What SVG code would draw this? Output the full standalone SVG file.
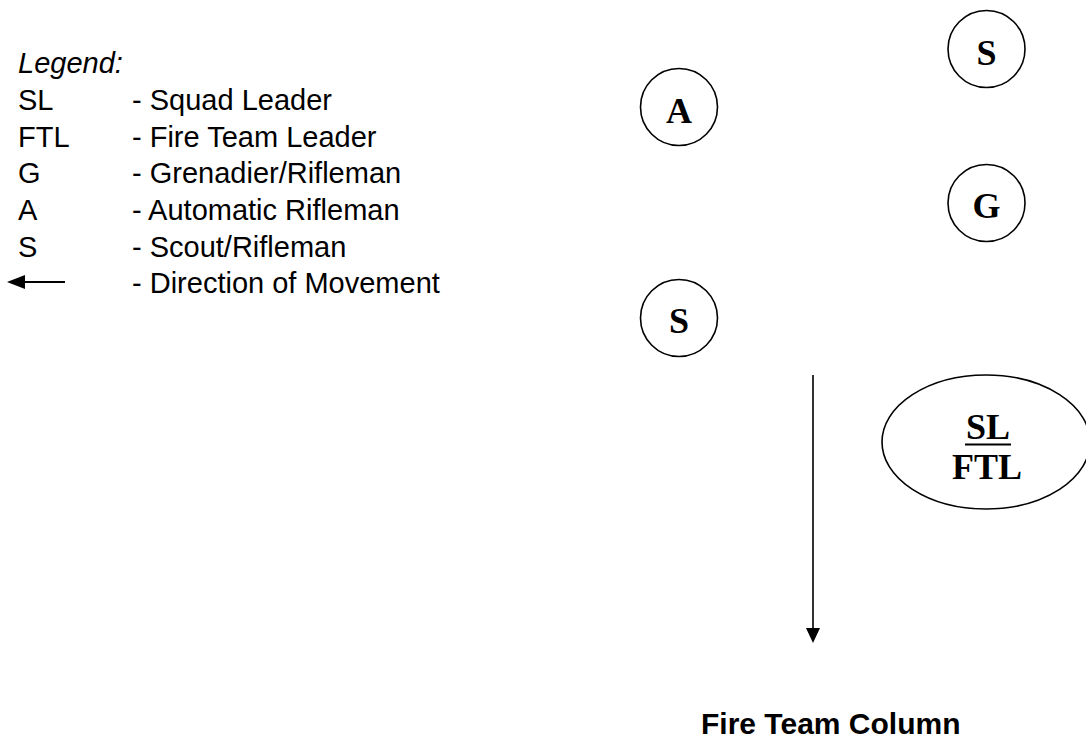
<svg xmlns="http://www.w3.org/2000/svg" width="1086" height="738" viewBox="0 0 1086 738">
<style>
.leg{font-family:"Liberation Sans",Arial,sans-serif;font-size:29px;fill:#000}
.node{fill:#fff;stroke:#000;stroke-width:1.6}
.lbl{font-family:"Liberation Serif","Times New Roman",serif;font-size:36px;font-weight:bold;fill:#000;text-anchor:middle}
.conn{stroke:#000;stroke-width:1.6;fill:none}
.title{font-family:"Liberation Sans",Arial,sans-serif;font-size:30px;font-weight:bold;fill:#000}
</style>
<rect width="1086" height="738" fill="#fff"/>
<g id="legend">
<text class="leg" x="18" y="73" font-style="italic">Legend:</text>
<text class="leg" x="18" y="110">SL</text><text class="leg" x="132" y="110">- Squad Leader</text>
<text class="leg" x="18" y="147">FTL</text><text class="leg" x="132" y="147">- Fire Team Leader</text>
<text class="leg" x="18" y="183">G</text><text class="leg" x="132" y="183">- Grenadier/Rifleman</text>
<text class="leg" x="18" y="220">A</text><text class="leg" x="132" y="220">- Automatic Rifleman</text>
<text class="leg" x="18" y="257">S</text><text class="leg" x="132" y="257">- Scout/Rifleman</text>
<line x1="24" y1="282" x2="65" y2="282" stroke="#000" stroke-width="2"/>
<polygon points="7,282 25,275 25,289" fill="#000"/>
<text class="leg" x="132" y="293">- Direction of Movement</text>
</g>
<g id="node-A"><circle class="node" cx="679" cy="107" r="38.5"/><text class="lbl" x="679" y="123">A</text></g>
<g id="node-S1"><circle class="node" cx="986.5" cy="49" r="38.5"/><text class="lbl" x="986.5" y="65">S</text></g>
<g id="node-G"><circle class="node" cx="986.5" cy="203" r="38.5"/><text class="lbl" x="986.5" y="218">G</text></g>
<g id="node-S2"><circle class="node" cx="679" cy="318" r="38.5"/><text class="lbl" x="679" y="333">S</text></g>
<g id="node-SLFTL"><ellipse class="node" cx="986" cy="442" rx="104" ry="67"/>
<text class="lbl" x="988" y="439">SL</text>
<line x1="965" y1="444.5" x2="1011" y2="444.5" stroke="#000" stroke-width="2.2"/>
<text class="lbl" x="987" y="479">FTL</text></g>
<g id="connectors">
<line class="conn" x1="813" y1="375" x2="813" y2="630"/>
<polygon points="806,628 820,628 813,643" fill="#000"/>
</g>
<g id="title"><text class="title" x="701" y="734">Fire Team Column</text></g>
</svg>
